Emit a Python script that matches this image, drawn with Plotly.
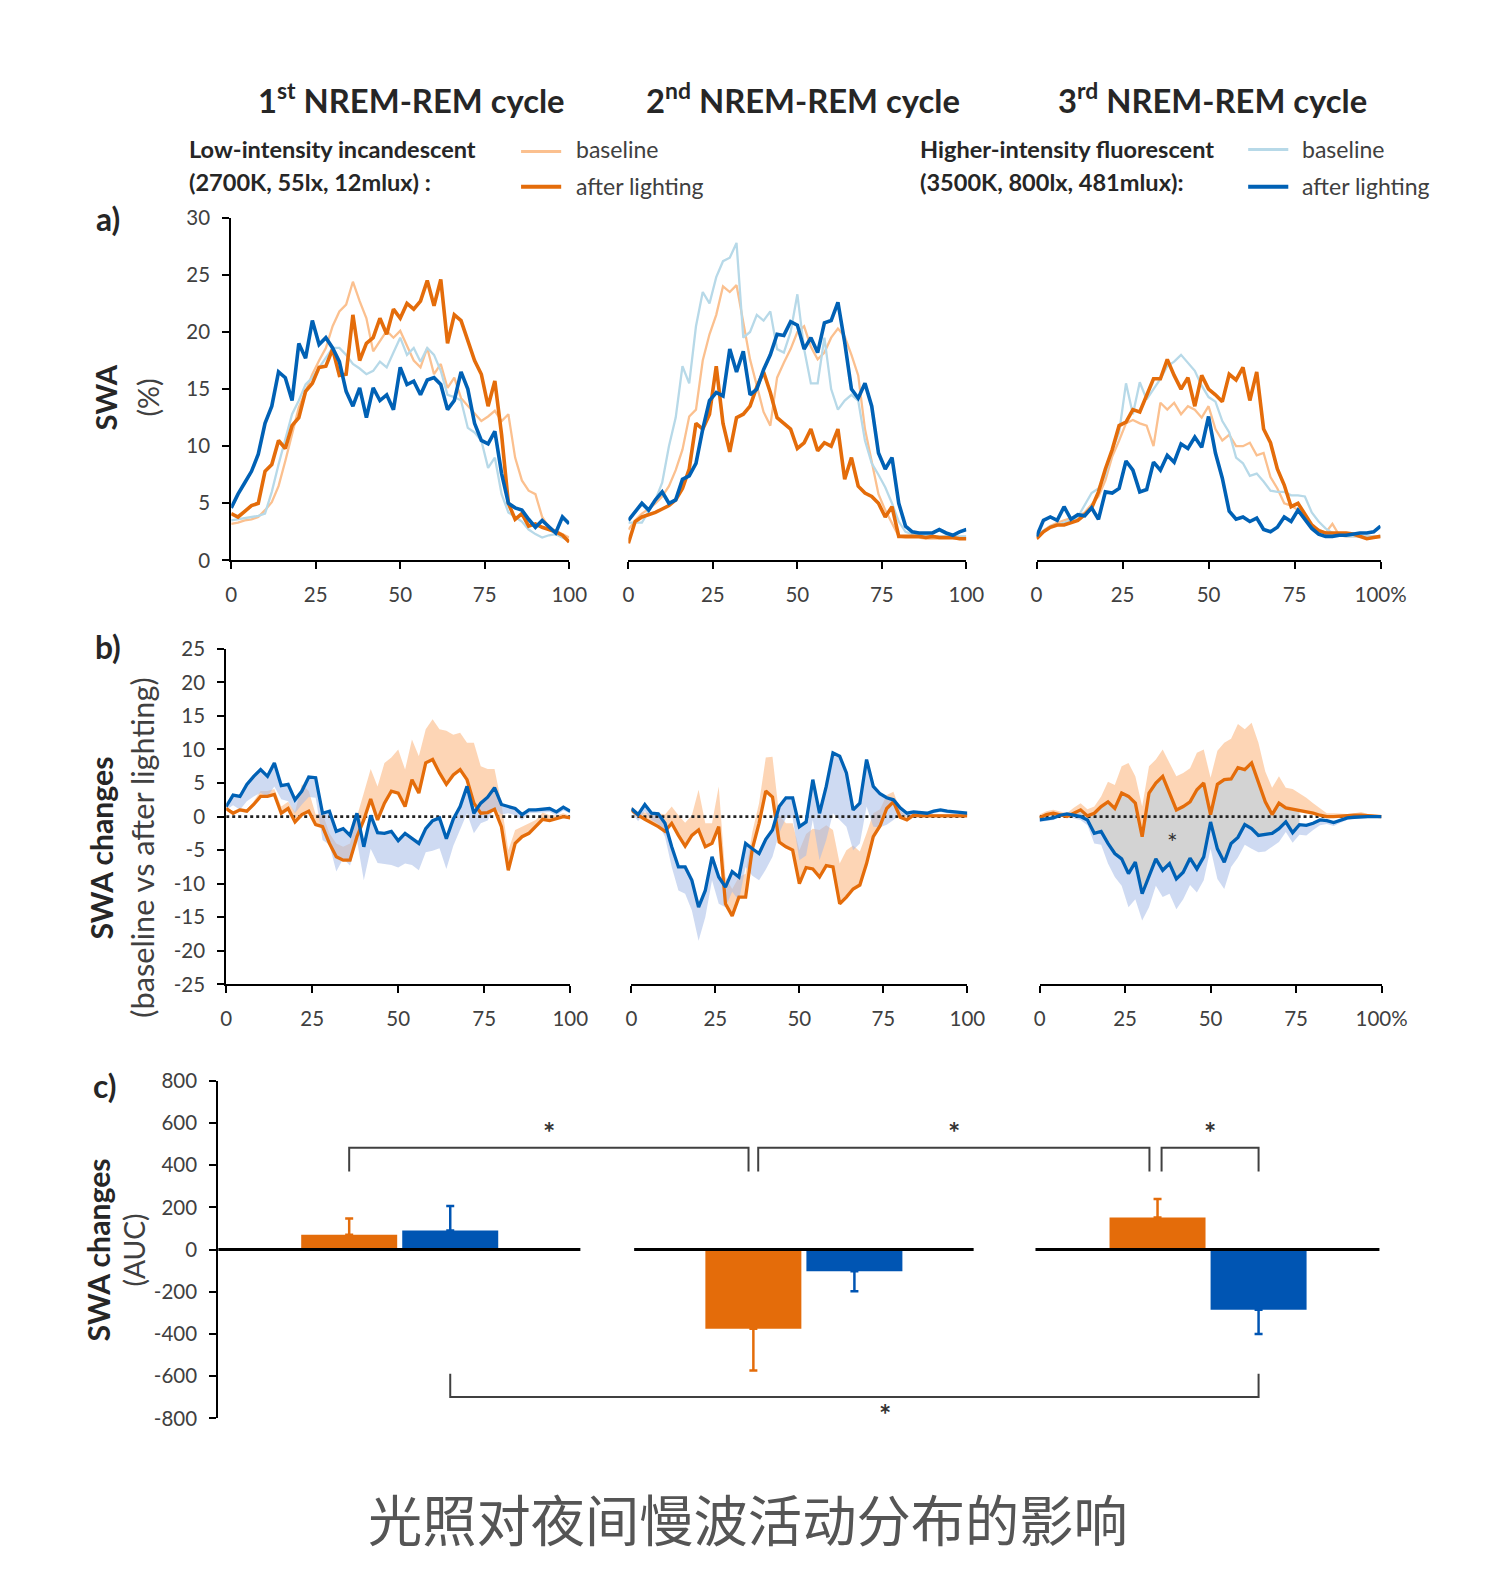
import plotly.graph_objects as go

# Figure geometry: the page body has an 8px margin; an empirical screen
# mapping (scale + offset) is compensated so that layout positions land
# where the reference shows them.
PAGE_W, PAGE_H, PAGE_OFF = 1500, 1575, 8
W, H = PAGE_W - 2 * PAGE_OFF, PAGE_H - 2 * PAGE_OFF
SX, OX, SY, OY = 0.9756, 5.6, 0.980, 12.3
FS = 1.024   # font compensation

# ---------------- data ----------------
PCT = list(range(0, 101, 2))          # % of the NREM-REM cycle
PCT_TICKS = [0, 25, 50, 75, 100]

# a) SWA (%) -- cycle 1
A1_BASE_OR = [3.2, 3.3, 3.5, 3.6, 3.8, 4.4, 5.1, 6.5, 8.7, 11.0,
              13.4, 14.8, 16.3, 17.5, 18.6, 20.5, 21.8, 22.4, 24.4, 22.7,
              21.2, 18.3, 19.2, 20.1, 19.5, 20.1, 18.8, 17.5, 16.9, 18.6,
              16.3, 17.2, 15.1, 16.0, 14.2, 13.5, 12.8, 12.2, 12.6, 13.1,
              12.2, 12.8, 9.0, 7.0, 6.1, 5.8, 3.8, 2.9, 2.6, 2.3, 2.0]
A1_AFTER_OR = [4.1, 3.8, 4.3, 4.8, 5.0, 7.8, 8.4, 10.5, 9.8, 11.8,
               12.5, 14.8, 15.5, 16.9, 17.0, 18.5, 16.2, 16.3, 21.5, 17.5,
               19.0, 19.5, 21.2, 19.8, 22.0, 21.2, 22.5, 22.0, 22.7, 24.5,
               22.3, 24.6, 19.0, 21.5, 21.0, 19.2, 17.5, 16.3, 13.5, 15.7,
               11.0, 5.0, 3.6, 4.1, 3.0, 3.2, 2.9, 2.7, 2.5, 2.2, 1.6]
A1_BASE_BL = [3.5, 3.6, 3.7, 3.8, 3.9, 4.1, 6.0, 8.4, 10.5, 12.8,
              14.0, 15.4, 16.0, 16.9, 17.8, 18.6, 18.6, 18.0, 17.2, 16.8,
              16.3, 16.6, 17.4, 16.9, 18.2, 19.5, 18.0, 18.6, 17.4, 18.6,
              18.0, 16.6, 14.5, 14.3, 14.0, 11.6, 11.2, 10.5, 8.1, 9.0,
              5.8, 4.2, 3.8, 3.4, 2.7, 2.3, 2.0, 2.2, 2.3, 2.0, 1.7]
A1_AFTER_BL = [4.6, 5.8, 6.8, 7.8, 9.3, 12.0, 13.5, 16.5, 16.0, 14.0,
               19.0, 17.7, 21.0, 18.9, 19.5, 18.6, 17.4, 14.8, 13.5, 15.1,
               12.5, 15.1, 14.0, 14.5, 13.2, 16.9, 15.4, 15.7, 14.5, 15.8,
               16.0, 15.4, 13.2, 14.0, 16.5, 15.0, 12.0, 10.5, 10.2, 11.3,
               7.6, 5.0, 4.6, 4.4, 3.6, 2.9, 3.5, 2.9, 2.4, 3.8, 3.2]

# a) cycle 2
A2_BASE_OR = [2.7, 3.5, 4.1, 4.5, 5.0, 5.6, 6.5, 7.9, 9.7, 12.6,
              13.2, 17.5, 19.8, 21.5, 24.0, 23.5, 24.1, 21.0, 17.6, 15.3,
              13.0, 11.8, 16.0, 17.3, 18.5, 20.0, 20.5, 18.7, 17.6, 18.2,
              19.5, 20.3, 19.6, 18.0, 16.2, 11.5, 8.5, 5.8, 4.4, 3.3,
              2.1, 2.0, 2.0, 2.0, 1.9, 1.9, 1.9, 1.9, 1.9, 1.9, 1.9]
A2_AFTER_OR = [1.5, 3.4, 3.8, 4.0, 4.2, 4.5, 4.8, 5.3, 6.3, 8.0,
               12.0, 11.5, 12.8, 17.0, 12.0, 9.5, 12.5, 12.8, 13.5, 15.2,
               16.5, 14.7, 12.5, 12.0, 11.5, 9.8, 10.3, 11.5, 9.6, 10.3,
               10.0, 11.5, 7.1, 9.0, 6.5, 5.9, 5.6, 5.0, 3.8, 4.7,
               2.1, 2.1, 2.1, 2.1, 2.0, 2.1, 2.0, 2.0, 2.0, 1.9, 1.9]
A2_BASE_BL = [3.3, 3.3, 3.3, 4.3, 5.3, 6.8, 10.0, 12.5, 17.0, 15.5,
              20.5, 23.5, 22.5, 24.8, 26.2, 26.5, 27.8, 19.5, 20.0, 21.5,
              21.0, 21.8, 18.5, 18.2, 20.0, 23.3, 18.5, 15.5, 15.5, 19.5,
              15.0, 13.2, 14.0, 14.5, 14.0, 10.5, 8.5, 7.5, 6.4, 5.0,
              3.4, 2.5, 2.3, 2.2, 2.2, 2.1, 2.1, 2.1, 2.1, 2.1, 2.1]
A2_AFTER_BL = [3.5, 4.3, 5.0, 4.4, 5.3, 6.0, 5.0, 5.3, 7.1, 7.4,
               8.5, 11.5, 14.0, 14.7, 14.4, 18.5, 16.5, 18.3, 14.5, 15.0,
               16.7, 18.0, 19.8, 19.7, 20.9, 20.6, 18.5, 19.5, 18.2, 20.8,
               21.0, 22.6, 19.1, 15.0, 14.2, 15.5, 13.5, 9.4, 8.0, 9.0,
               5.0, 3.0, 2.5, 2.4, 2.4, 2.4, 2.7, 2.4, 2.2, 2.5, 2.7]

# a) cycle 3
A3_BASE_OR = [2.1, 2.6, 3.0, 3.3, 3.5, 3.7, 3.8, 4.2, 4.9, 5.6,
              7.0, 9.1, 10.5, 12.0, 12.3, 12.0, 11.8, 10.0, 13.8, 13.2,
              13.8, 12.8, 13.5, 13.2, 12.5, 13.5, 11.5, 10.5, 11.0, 10.0,
              10.0, 10.3, 9.2, 9.4, 7.3, 6.3, 5.0, 4.8, 4.4, 3.7,
              3.0, 2.7, 2.4, 3.2, 2.2, 2.1, 2.1, 2.1, 2.1, 2.1, 2.1]
A3_AFTER_OR = [1.9, 2.5, 2.9, 3.1, 3.1, 3.3, 3.5, 4.0, 4.6, 6.0,
               8.0, 9.7, 11.8, 12.1, 13.2, 13.0, 14.5, 15.9, 15.9, 17.6,
               16.2, 15.0, 16.0, 13.5, 16.2, 15.0, 14.5, 13.9, 16.3, 15.8,
               16.9, 14.0, 16.5, 11.5, 10.3, 8.0, 6.6, 4.7, 5.0, 4.0,
               3.1, 2.6, 2.4, 2.4, 2.4, 2.4, 2.3, 2.1, 1.9, 2.0, 2.1]
A3_BASE_BL = [2.1, 2.6, 3.0, 3.1, 3.3, 3.5, 3.8, 4.8, 5.9, 6.3,
              7.5, 9.7, 11.2, 15.5, 12.8, 15.6, 14.1, 15.0, 15.9, 17.0,
              17.4, 18.0, 17.3, 16.6, 15.3, 14.3, 13.9, 12.2, 11.2, 9.0,
              8.5, 7.4, 7.6, 6.9, 6.1, 6.0, 6.0, 5.7, 5.7, 5.6,
              4.2, 3.4, 2.8, 2.4, 2.2, 2.1, 2.1, 2.1, 2.1, 2.1, 2.1]
A3_AFTER_BL = [2.1, 3.5, 3.8, 3.5, 4.7, 3.6, 4.0, 3.9, 4.6, 3.6,
               6.0, 5.9, 6.3, 8.7, 7.9, 6.0, 6.2, 8.6, 7.9, 9.2,
               8.6, 10.2, 9.8, 10.8, 9.9, 12.6, 9.4, 7.2, 4.3, 3.6,
               3.8, 3.4, 3.7, 2.7, 2.5, 2.9, 3.8, 3.4, 4.4, 3.6,
               2.8, 2.3, 2.1, 2.1, 2.2, 2.2, 2.3, 2.4, 2.4, 2.5, 3.0]

# b) SWA changes (after lighting vs baseline) with SEM
B1_OR = [1.2, 0.5, 1.0, 0.8, 1.8, 3.0, 3.0, 3.3, 0.5, 1.2,
         -0.8, 0.3, 0.8, -1.2, -1.5, -4.0, -6.0, -6.5, -6.5, -3.0,
         -0.5, 2.6, -0.5, 2.0, 3.8, 3.5, 1.5, 5.5, 3.5, 8.0,
         8.5, 6.5, 4.8, 6.2, 7.0, 5.5, 2.0, 0.5, 0.6, 1.1,
         -1.5, -8.0, -4.0, -3.0, -2.5, -1.5, -0.4, -0.6, -0.3, 0.0, -0.2]
B1_OR_SEM = [0.3, 0.3, 0.3, 0.3, 0.5, 0.8, 0.8, 0.8, 1.0, 1.0,
             1.5, 4.5, 3.0, 1.5, 2.0, 1.5, 2.0, 2.0, 2.5, 3.0,
             4.0, 4.5, 5.0, 6.0, 5.0, 6.5, 5.5, 6.0, 5.5, 5.0,
             6.0, 6.5, 8.0, 6.0, 5.5, 5.5, 9.0, 7.0, 6.5, 6.0,
             3.5, 3.0, 2.0, 1.5, 1.5, 1.0, 1.0, 0.8, 0.5, 0.5, 0.3]
B1_BL = [1.5, 3.2, 3.0, 4.8, 6.0, 7.0, 6.0, 8.0, 4.6, 4.8,
         2.5, 3.8, 5.9, 5.8, 0.5, 0.8, -2.2, -1.8, -2.8, 0.5,
         -4.5, 0.2, -2.4, -2.5, -2.2, -3.6, -2.5, -3.2, -4.0, -1.8,
         -0.6, -0.2, -3.3, -0.4, 1.5, 4.5, 0.5, 2.0, 2.9, 4.3,
         1.8, 1.5, 1.2, 0.3, 1.0, 1.0, 1.1, 1.2, 0.7, 1.4, 0.8]
B1_BL_SEM = [0.5, 1.5, 2.0, 2.5, 3.0, 3.5, 3.0, 3.5, 2.0, 2.5,
             2.0, 2.0, 3.0, 3.0, 4.0, 5.0, 6.0, 4.5, 4.5, 4.0,
             5.0, 5.0, 4.5, 4.5, 5.0, 4.0, 4.5, 4.0, 4.0, 3.5,
             4.5, 4.5, 4.5, 4.0, 3.5, 4.0, 3.0, 3.0, 3.5, 3.0,
             1.5, 1.0, 1.0, 0.8, 0.5, 0.5, 0.5, 0.5, 0.5, 0.5, 0.3]

B2_OR = [1.0, 0.2, -0.4, -0.9, -1.5, -2.2, -1.0, -2.8, -4.4, -2.8,
         -2.0, -4.5, -4.0, -1.5, -13.0, -14.8, -12.0, -12.0, -4.8, -1.0,
         3.8, 2.9, -3.8, -4.5, -5.0, -10.0, -7.6, -7.8, -9.0, -7.3,
         -7.5, -13.0, -12.0, -10.8, -10.2, -7.0, -3.0, -1.4, 1.2, 2.2,
         -0.1, -0.5, 0.2, 0.1, 0.1, 0.1, 0.1, 0.1, 0.1, 0.1, 0.1]
B2_OR_SEM = [0.5, 0.5, 1.0, 1.5, 2.0, 2.5, 2.5, 3.0, 3.5, 3.0,
             6.0, 3.5, 3.0, 6.0, 4.0, 4.0, 3.0, 3.5, 2.5, 3.0,
             5.0, 6.0, 4.0, 3.5, 4.0, 5.0, 5.0, 6.0, 7.0, 6.0,
             5.5, 6.0, 7.0, 6.5, 5.0, 4.5, 3.5, 2.5, 2.0, 1.5,
             1.0, 0.5, 0.5, 0.3, 0.3, 0.3, 0.3, 0.3, 0.3, 0.3, 0.3]
B2_BL = [1.2, 0.3, 1.8, 0.5, 0.4, -1.0, -4.5, -7.5, -7.5, -9.5,
         -13.5, -11.0, -6.0, -9.0, -10.5, -8.2, -9.0, -4.0, -4.8, -5.5,
         -3.4, -2.0, 1.5, 2.8, 2.8, -1.5, -0.8, 5.5, 0.5, 4.5,
         9.5, 9.0, 6.5, 1.0, 2.0, 8.5, 4.5, 3.4, 2.8, 2.5,
         1.3, 0.5, 0.7, 0.6, 0.5, 0.8, 1.0, 0.8, 0.7, 0.6, 0.5]
B2_BL_SEM = [0.5, 1.0, 1.0, 1.0, 1.5, 2.0, 3.0, 3.5, 4.0, 4.5,
             5.0, 4.0, 3.5, 4.0, 3.0, 3.0, 3.5, 3.5, 4.0, 4.0,
             4.5, 4.0, 4.0, 3.0, 3.0, 5.0, 5.0, 6.0, 7.0, 8.0,
             9.0, 9.5, 8.0, 6.0, 6.0, 7.0, 6.0, 5.0, 4.0, 3.0,
             1.0, 0.5, 0.5, 0.5, 0.3, 0.3, 0.3, 0.3, 0.3, 0.3, 0.3]

B3_OR = [-0.2, 0.3, 0.5, 0.2, 0.0, 0.5, 1.0, 0.1, 0.5, 1.5,
         2.2, 1.2, 3.5, 3.0, 2.0, -3.0, 3.5, 5.0, 6.0, 3.5,
         1.0, 1.5, 2.2, 4.0, 5.0, 0.3, 4.8, 5.5, 5.6, 7.3,
         7.0, 8.0, 5.0, 2.2, 0.3, 2.0, 1.3, 1.1, 1.0, 0.8,
         0.5, 0.2, 0.0, 0.0, 0.1, 0.1, 0.2, 0.2, 0.1, 0.0, 0.0]
B3_OR_SEM = [0.5, 0.5, 0.5, 0.5, 0.5, 0.8, 1.0, 1.0, 1.0, 1.5,
             3.0, 3.5, 4.0, 5.0, 4.0, 4.5, 4.0, 3.5, 4.0, 4.5,
             5.0, 5.0, 5.0, 5.5, 5.0, 5.5, 5.0, 5.5, 6.0, 6.5,
             6.0, 6.0, 6.0, 4.5, 4.0, 4.0, 3.0, 3.0, 2.5, 2.0,
             1.5, 1.0, 0.5, 0.5, 0.3, 0.3, 0.3, 0.5, 0.3, 0.3, 0.2]
B3_BL = [-0.5, -0.3, -0.2, 0.2, 0.4, 0.2, 0.0, -0.5, -2.5, -2.2,
         -4.0, -5.5, -6.3, -8.5, -6.8, -11.5, -9.0, -6.3, -8.0, -7.0,
         -9.3, -8.3, -6.2, -7.8, -6.0, -0.8, -4.8, -6.8, -4.0, -3.1,
         -1.2, -1.8, -2.8, -2.7, -2.5, -1.8, -0.8, -2.4, -1.2, -1.3,
         -1.0, -0.5, -0.6, -0.9, -0.6, -0.2, -0.1, 0.0, 0.0, 0.0, 0.0]
B3_BL_SEM = [0.3, 0.3, 0.3, 0.3, 0.3, 0.5, 0.5, 0.8, 1.5, 2.0,
             3.0, 3.5, 4.0, 5.0, 5.5, 4.0, 4.5, 4.0, 4.0, 4.5,
             4.5, 4.0, 4.0, 3.5, 3.5, 4.0, 4.5, 4.0, 3.5, 3.0,
             3.0, 3.0, 2.5, 2.5, 2.0, 2.0, 1.5, 1.5, 1.5, 1.5,
             1.0, 0.8, 0.5, 0.5, 0.3, 0.3, 0.2, 0.2, 0.2, 0.2, 0.2]
B3_SIG_RANGE = (8, 76)   # % range of significant difference (grey area)

# c) SWA changes (AUC)
C_GROUPS = [0, 1, 2]     # NREM-REM cycles 1..3
C_OR = [70, -375, 152]
C_OR_SEM = [78, 198, 88]
C_BL = [90, -102, -285]
C_BL_SEM = [117, 95, 115]

# ---------------- styles ----------------
OR_DARK = "#E46C0A"
OR_LIGHT = "#FBC08F"
BL_DARK = "#0061B5"
BL_LIGHT = "#B7D9E8"
BAR_BL = "#0055B3"
OR_BAND = "rgba(252,178,120,0.55)"
BL_BAND = "rgba(165,188,232,0.55)"
GREY_FILL = "rgba(200,200,200,0.8)"
TXT = "#404040"
FONT = "Lato"
TICKFONT = dict(family=FONT, size=20.5, color=TXT)


def px_x(p):
    return ((p - OX) / SX - PAGE_OFF) / W


def px_y(p):
    return 1 - ((p - OY) / SY - PAGE_OFF) / H


def xd(p0, p1):
    return [px_x(p0), px_x(p1)]


def yd(ptop, pbot):
    return [px_y(pbot), px_y(ptop)]


fig = go.Figure()


def line(x, y, color, width, xa, ya, dash=None):
    fig.add_trace(go.Scatter(x=x, y=y, mode="lines", xaxis=xa, yaxis=ya,
                             line=dict(color=color, width=width, dash=dash),
                             hoverinfo="skip", showlegend=False))


def band(x, base, edge, color, xa, ya):
    fig.add_trace(go.Scatter(x=x, y=base, mode="lines", line=dict(width=0),
                             xaxis=xa, yaxis=ya, hoverinfo="skip", showlegend=False))
    fig.add_trace(go.Scatter(x=x, y=edge, mode="lines", line=dict(width=0),
                             fill="tonexty", fillcolor=color,
                             xaxis=xa, yaxis=ya, hoverinfo="skip", showlegend=False))


# ---- row a
A_SETS = [(A1_BASE_OR, A1_BASE_BL, A1_AFTER_OR, A1_AFTER_BL),
          (A2_BASE_OR, A2_BASE_BL, A2_AFTER_OR, A2_AFTER_BL),
          (A3_BASE_OR, A3_BASE_BL, A3_AFTER_OR, A3_AFTER_BL)]
for i, (bo, bb, ao, ab) in enumerate(A_SETS):
    xa, ya = f"x{i + 1}", f"y{i + 1}"
    line(PCT, bo, OR_LIGHT, 2.3, xa, ya)
    line(PCT, bb, BL_LIGHT, 2.3, xa, ya)
    line(PCT, ao, OR_DARK, 3.6, xa, ya)
    line(PCT, ab, BL_DARK, 3.6, xa, ya)

# ---- row b
B_SETS = [(B1_OR, B1_OR_SEM, B1_BL, B1_BL_SEM),
          (B2_OR, B2_OR_SEM, B2_BL, B2_BL_SEM),
          (B3_OR, B3_OR_SEM, B3_BL, B3_BL_SEM)]
for i, (o, oe, b, be) in enumerate(B_SETS):
    xa, ya = f"x{i + 4}", f"y{i + 4}"
    if i == 2:
        idx = [k for k, p in enumerate(PCT) if B3_SIG_RANGE[0] <= p <= B3_SIG_RANGE[1]]
        band([PCT[k] for k in idx], [o[k] for k in idx], [b[k] for k in idx],
             GREY_FILL, xa, ya)
    band(PCT, o, [v + e for v, e in zip(o, oe)], OR_BAND, xa, ya)
    band(PCT, b, [v - e for v, e in zip(b, be)], BL_BAND, xa, ya)
    line([0, 100], [0, 0], "#222222", 2.6, xa, ya, dash="dot")
    line(PCT, o, OR_DARK, 3.3, xa, ya)
    line(PCT, b, BL_DARK, 3.3, xa, ya)


# ---- row c
def away(vals, errs):
    plus = [e if v >= 0 else 0 for v, e in zip(vals, errs)]
    minus = [0 if v >= 0 else e for v, e in zip(vals, errs)]
    return plus, minus


op, om = away(C_OR, C_OR_SEM)
bp, bm = away(C_BL, C_BL_SEM)
fig.add_trace(go.Bar(x=C_GROUPS, y=C_OR, marker=dict(color=OR_DARK, line=dict(width=0)),
                     error_y=dict(type="data", symmetric=False, array=op, arrayminus=om,
                                  color=OR_DARK, thickness=2.5, width=4),
                     xaxis="x7", yaxis="y7", showlegend=False, hoverinfo="skip"))
fig.add_trace(go.Bar(x=C_GROUPS, y=C_BL, marker=dict(color=BAR_BL, line=dict(width=0)),
                     error_y=dict(type="data", symmetric=False, array=bp, arrayminus=bm,
                                  color=BAR_BL, thickness=2.5, width=4),
                     xaxis="x7", yaxis="y7", showlegend=False, hoverinfo="skip"))

# ---------------- axes ----------------
A_TOP, A_BOT = 216, 557
B_TOP, B_BOT = 645, 979
C_TOP, C_BOT = 1075, 1411
A_X = [(230, 567), (626, 963), (1033, 1376)]
B_X = [(225, 568), (629, 964), (1036, 1377)]

LBL = ["0", "25", "50", "75", "100"]
LBL_P = ["0", "25", "50", "75", "100%"]


def xaxis_cfg(dom, anchor, labels):
    return dict(domain=dom, range=[0, 100], anchor=anchor, showline=True,
                linecolor="black", linewidth=2, ticks="outside", ticklen=7,
                tickwidth=2, tickcolor="black", tickvals=PCT_TICKS, ticktext=labels,
                tickfont=TICKFONT, showgrid=False, zeroline=False,
                ticklabelstandoff=8, fixedrange=True)


def yaxis_cfg(dom, rng, anchor, vals, show):
    if not show:
        return dict(domain=dom, range=rng, anchor=anchor, visible=False, fixedrange=True)
    return dict(domain=dom, range=rng, anchor=anchor, showline=True, linecolor="black",
                linewidth=2, ticks="outside", ticklen=7, tickwidth=2, tickcolor="black",
                tickvals=vals, ticktext=[str(v) for v in vals], tickfont=TICKFONT,
                showgrid=False, zeroline=False, ticklabelstandoff=8, fixedrange=True)


lay = {}
for i in range(3):
    lay[f"xaxis{i + 1}"] = xaxis_cfg(xd(*A_X[i]), f"y{i + 1}", LBL_P if i == 2 else LBL)
    lay[f"yaxis{i + 1}"] = yaxis_cfg(yd(A_TOP, A_BOT), [0, 30], f"x{i + 1}",
                                     list(range(0, 31, 5)), i == 0)
    lay[f"xaxis{i + 4}"] = xaxis_cfg(xd(*B_X[i]), f"y{i + 4}", LBL_P if i == 2 else LBL)
    lay[f"yaxis{i + 4}"] = yaxis_cfg(yd(B_TOP, B_BOT), [-25, 25], f"x{i + 4}",
                                     list(range(-25, 26, 5)), i == 0)

C_X0_PX, C_X1_PX, G0_PX, G_STEP_PX = 217, 1380, 398, 403
c_range = [(C_X0_PX - G0_PX) / G_STEP_PX, (C_X1_PX - G0_PX) / G_STEP_PX]
lay["xaxis7"] = dict(domain=xd(C_X0_PX, C_X1_PX), range=c_range, anchor="y7",
                     visible=False, fixedrange=True)
lay["yaxis7"] = yaxis_cfg(yd(C_TOP, C_BOT), [-800, 800], "x7",
                          list(range(-800, 801, 200)), True)

# ---------------- shapes ----------------
shapes = []
seg = [(c_range[0], 0.447), (1 - 0.42, 1 + 0.42), (2 - 0.427, 2 + 0.424)]
for s0, s1 in seg:
    shapes.append(dict(type="line", xref="x7", yref="y7", x0=s0, x1=s1, y0=0, y1=0,
                       line=dict(color="black", width=3)))

OFF = 0.125
or_c = [g - OFF for g in C_GROUPS]
bl_c = [g + OFF for g in C_GROUPS]
BR_TOP, BR_LEG = 483, 370
BR_BOT, BR_BLEG = -698, -588
brackets_top = [(or_c[0], or_c[1] - 0.012), (or_c[1] + 0.012, or_c[2] - 0.02),
                (or_c[2] + 0.01, bl_c[2])]
for a, b in brackets_top:
    shapes.append(dict(type="path", xref="x7", yref="y7",
                       path=f"M {a},{BR_LEG} L {a},{BR_TOP} L {b},{BR_TOP} L {b},{BR_LEG}",
                       line=dict(color="#404040", width=2)))
shapes.append(dict(type="path", xref="x7", yref="y7",
                   path=f"M {bl_c[0]},{BR_BLEG} L {bl_c[0]},{BR_BOT} L {bl_c[2]},{BR_BOT} L {bl_c[2]},{BR_BLEG}",
                   line=dict(color="#404040", width=2)))

for (x0, x1, yy, col, wd) in [(519, 559, 150, OR_LIGHT, 3), (519, 559, 185, OR_DARK, 4),
                              (1244, 1284, 148, BL_LIGHT, 3), (1244, 1284, 185, BL_DARK, 4)]:
    shapes.append(dict(type="line", xref="paper", yref="paper", x0=px_x(x0), x1=px_x(x1),
                       y0=px_y(yy), y1=px_y(yy), line=dict(color=col, width=wd)))

# ---------------- annotations ----------------
ann = []


def txt(xp, yp, text, size, bold=False, xanchor="center", angle=0, color=TXT, family=FONT):
    ann.append(dict(x=px_x(xp), y=px_y(yp), xref="paper", yref="paper", text=text,
                    showarrow=False, xanchor=xanchor, yanchor="middle", textangle=angle,
                    font=dict(family=family, size=size * FS, color=color,
                              weight="bold" if bold else "normal")))


TITLE_C = "#262626"
txt(410, 97, "1<sup>st</sup> NREM-REM cycle", 32, True, color=TITLE_C)
txt(800, 97, "2<sup>nd</sup> NREM-REM cycle", 32, True, color=TITLE_C)
txt(1208, 97, "3<sup>rd</sup> NREM-REM cycle", 32, True, color=TITLE_C)

txt(186, 148, "Low-intensity incandescent", 23, True, "left", color=TITLE_C)
txt(186, 180, "(2700K, 55lx, 12mlux) :", 23, True, "left", color=TITLE_C)
txt(572, 148, "baseline", 22.5, False, "left")
txt(572, 184, "after lighting", 22.5, False, "left")
txt(915, 148, "Higher-intensity fluorescent", 23, True, "left", color=TITLE_C)
txt(915, 180, "(3500K, 800lx, 481mlux):", 23, True, "left", color=TITLE_C)
txt(1296, 148, "baseline", 22.5, False, "left")
txt(1296, 184, "after lighting", 22.5, False, "left")

txt(107, 217, "a)", 31, True, color=TITLE_C)
txt(107, 643, "b)", 31, True, color=TITLE_C)
txt(104, 1080, "c)", 31, True, color=TITLE_C)

txt(105, 395, "SWA", 28.5, True, angle=-90, color=TITLE_C)
txt(147, 395, "(%)", 28, False, angle=-90)
txt(100, 843, "SWA changes", 29.5, True, angle=-90, color=TITLE_C)
txt(142, 843, "(baseline vs after lighting)", 30, False, angle=-90)
txt(97, 1243, "SWA changes", 29.5, True, angle=-90, color=TITLE_C)
txt(133, 1243, "(AUC)", 27.5, False, angle=-90)

ann.append(dict(x=39, y=-3.8, xref="x6", yref="y6", text="*", showarrow=False,
                font=dict(family=FONT, size=25, color="#333333")))
for a, b in brackets_top:
    ann.append(dict(x=(a + b) / 2, y=BR_TOP + 75, xref="x7", yref="y7", text="*",
                    showarrow=False, font=dict(family=FONT, size=29, color="#333333",
                                               weight="bold")))
ann.append(dict(x=1.2, y=BR_BOT - 80, xref="x7", yref="y7", text="*", showarrow=False,
                font=dict(family=FONT, size=29, color="#333333", weight="bold")))

txt(745, 1510, "光照对夜间慢波活动分布的影响", 53, False, color="#555555",
    family="Noto Sans CJK SC")

fig.update_layout(width=W, height=H, margin=dict(l=0, r=0, t=0, b=0),
                  paper_bgcolor="white", plot_bgcolor="white",
                  barmode="group", bargap=0.5, bargroupgap=0.05,
                  shapes=shapes, annotations=ann, showlegend=False, **lay)

fig.write_html("out.html")
